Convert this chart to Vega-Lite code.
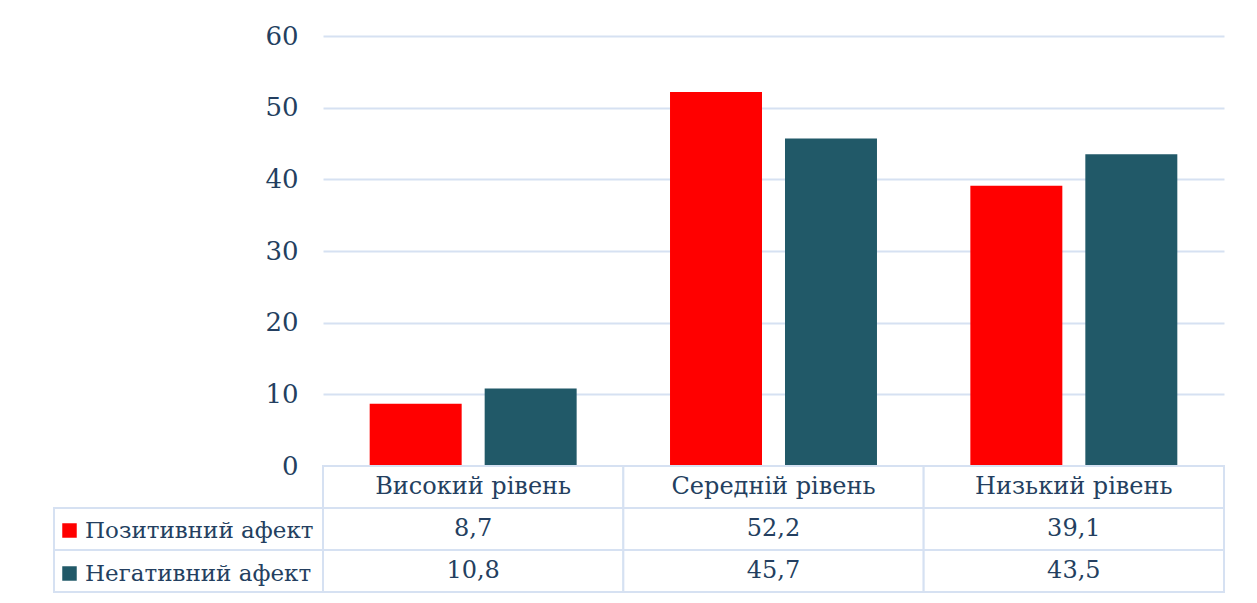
{
  "$schema": "https://vega.github.io/schema/vega-lite/v6.json",
  "background": "white",
  "autosize": {"type": "pad"},
  "padding": {"left": 53, "top": 23, "right": 0, "bottom": 0},
  "data": {
    "values": [
      {"level": "Високий рівень", "series": "Позитивний афект", "value": 8.7},
      {"level": "Високий рівень", "series": "Негативний афект", "value": 10.8},
      {"level": "Середній рівень", "series": "Позитивний афект", "value": 52.2},
      {"level": "Середній рівень", "series": "Негативний афект", "value": 45.7},
      {"level": "Низький рівень", "series": "Позитивний афект", "value": 39.1},
      {"level": "Низький рівень", "series": "Негативний афект", "value": 43.5}
    ]
  },
  "columns": 2,
  "spacing": 0,
  "bounds": "flush",
  "resolve": {"scale": {"x": "independent", "y": "independent"}},
  "concat": [
    {
      "width": 269,
      "height": 430,
      "data": {"values": []},
      "mark": {"type": "point", "opacity": 0},
      "encoding": {}
    },
    {
      "width": 901,
      "height": 430,
      "mark": {"type": "bar"},
      "encoding": {
        "x": {
          "field": "level", "type": "nominal",
          "scale": {"domain": ["Високий рівень", "Середній рівень", "Низький рівень"], "paddingInner": 0, "paddingOuter": 0},
          "axis": null
        },
        "xOffset": {
          "field": "series", "type": "nominal",
          "scale": {"domain": ["Позитивний афект", "Негативний афект"], "paddingInner": 0.2, "paddingOuter": 0.406}
        },
        "y": {
          "field": "value", "type": "quantitative",
          "scale": {"domain": [0, 60], "nice": false},
          "axis": {
            "values": [0, 10, 20, 30, 40, 50, 60],
            "title": null,
            "domain": false,
            "ticks": false,
            "grid": true,
            "gridColor": "#D6E1F2",
            "gridWidth": 2,
            "labelPadding": 25,
            "labelFont": "DejaVu Serif",
            "labelFontSize": 26,
            "labelColor": "#243F60"
          }
        },
        "color": {
          "field": "series", "type": "nominal",
          "scale": {"domain": ["Позитивний афект", "Негативний афект"], "range": ["#FF0000", "#215968"]},
          "legend": {
            "orient": "none",
            "legendX": 4,
            "legendY": 483,
            "title": null,
            "padding": 0,
            "symbolType": "square",
            "symbolSize": 210,
            "symbolStrokeWidth": 0,
            "symbolOpacity": 1,
            "labelFont": "DejaVu Serif",
            "labelFontSize": 23,
            "labelColor": "#243F60",
            "labelLimit": 0,
            "labelOffset": 4,
            "rowPadding": 19
          }
        }
      }
    },
    {
      "width": 269,
      "height": 126,
      "transform": [{"filter": "datum.level === 'Високий рівень'"}],
      "mark": {"type": "rect", "fill": "white", "stroke": "#D6E1F2", "strokeWidth": 2},
      "encoding": {
        "y": {
          "field": "series", "type": "nominal",
          "scale": {"domain": ["Рівень", "Позитивний афект", "Негативний афект"], "paddingInner": 0, "paddingOuter": 0},
          "axis": null
        }
      }
    },
    {
      "width": 901,
      "height": 126,
      "encoding": {
        "x": {
          "field": "level", "type": "nominal",
          "scale": {"domain": ["Високий рівень", "Середній рівень", "Низький рівень"], "paddingInner": 0, "paddingOuter": 0},
          "axis": null
        },
        "y": {
          "field": "series", "type": "nominal",
          "scale": {"domain": ["Рівень", "Позитивний афект", "Негативний афект"], "paddingInner": 0, "paddingOuter": 0},
          "axis": null
        }
      },
      "layer": [
        {
          "mark": {"type": "rect", "fill": "white", "stroke": "#D6E1F2", "strokeWidth": 2}
        },
        {
          "mark": {"type": "text", "font": "DejaVu Serif", "fontSize": 24, "color": "#243F60"},
          "encoding": {"text": {"field": "value", "type": "quantitative", "format": ".1f"}}
        },
        {
          "transform": [{"filter": "datum.series === 'Позитивний афект'"}],
          "mark": {"type": "rect", "fill": "white", "stroke": "#D6E1F2", "strokeWidth": 2},
          "encoding": {"y": {"datum": "Рівень", "type": "nominal"}}
        },
        {
          "transform": [{"filter": "datum.series === 'Позитивний афект'"}],
          "mark": {"type": "text", "font": "DejaVu Serif", "fontSize": 24, "color": "#243F60"},
          "encoding": {"y": {"datum": "Рівень", "type": "nominal"}, "text": {"field": "level", "type": "nominal"}}
        }
      ]
    }
  ],
  "config": {
    "view": {"stroke": null},
    "locale": {"number": {"decimal": ",", "thousands": " ", "grouping": [3], "currency": ["", " ₴"]}}
  }
}
